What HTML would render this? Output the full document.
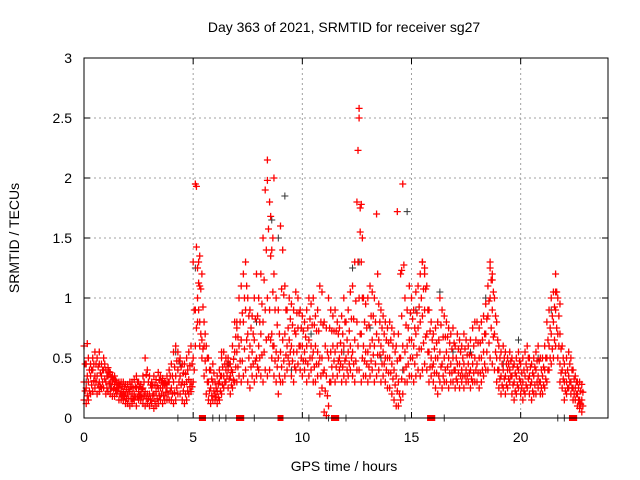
<!DOCTYPE html>
<html><head><meta charset="utf-8"><style>
body{margin:0;background:#fff;}
svg{display:block;font-family:"Liberation Sans",sans-serif;}
</style></head><body>
<svg id="c" width="640" height="480">
<rect width="640" height="480" fill="#fff"/>
<text x="344" y="32" text-anchor="middle" font-size="14">Day 363 of 2021, SRMTID for receiver sg27</text>
<text x="344" y="471" text-anchor="middle" font-size="14">GPS time / hours</text>
<text transform="translate(19,238) rotate(-90)" text-anchor="middle" font-size="14">SRMTID / TECUs</text>
<g id="grid"></g><g id="ticks"></g><g id="marks"></g>
<rect x="84" y="58" width="524" height="360" fill="none" stroke="#000"/>
</svg>
<script>
const xTicks=[0,5,10,15,20];
const yTicks=[0,0.5,1,1.5,2,2.5,3];
const yTickLabels=["0","0.5","1","1.5","2","2.5","3"];
const redLo=[.15,.12,.15,.2,.22,.25,.2,.22,.25,.25,.2,.22,.2,.18,.18,.2,.15,.15,.15,.12,.12,.1,.12,.15,.1,.15,.15,.12,.1,.12,.1,.12,.08,.1,.12,.15,.12,.15,.15,.15,.15,.12,.15,.2,.2,.15,.12,.15,.2,.22,.3,.6,.8,.6,.5,.35,.2,.15,.12,.15,.15,.12,.15,.2,.25,.3,.25,.2,.25,.3,.3,.35,.3,.35,.4,.3,.25,.35,.3,.35,.4,.35,.3,.4,.35,.4,.5,.35,.3,.2,.3,.3,.35,.4,.45,.35,.3,.4,.45,.4,.35,.4,.3,.35,.4,.3,.3,.35,.2,.25,.05,.02,.1,.3,.35,.3,.35,.4,.3,.35,.3,.35,.4,.35,.3,.4,.4,.3,.35,.35,.3,.35,.4,.3,.35,.4,.3,.35,.3,.25,.25,.2,.15,.1,.1,.15,.2,.3,.3,.35,.35,.3,.35,.4,.35,.4,.45,.4,.3,.35,.3,.25,.2,.3,.25,.3,.3,.25,.3,.3,.25,.3,.25,.3,.25,.3,.3,.25,.3,.3,.3,.25,.3,.35,.4,.4,.5,.45,.4,.3,.25,.2,.25,.2,.25,.3,.2,.15,.2,.25,.2,.15,.2,.25,.2,.15,.2,.2,.25,.2,.2,.25,.3,.4,.45,.5,.6,.5,.3,.25,.15,.2,.25,.2,.15,.15,.1,.08,.05];
const redMid=[.3,.25,.3,.35,.4,.35,.35,.3,.35,.4,.3,.35,.3,.3,.28,.25,.25,.22,.22,.2,.2,.22,.2,.2,.25,.22,.2,.25,.22,.2,.2,.25,.2,.22,.25,.25,.25,.28,.25,.3,.25,.3,.35,.4,.35,.3,.28,.3,.32,.3,.5,.9,1.0,.8,.65,.6,.4,.3,.25,.3,.2,.22,.3,.35,.35,.4,.4,.35,.38,.55,.55,.6,.65,.8,.9,.7,.6,.55,.65,.5,.6,.7,.8,.9,1.0,.9,.7,.6,.55,.5,.55,.65,.7,.6,.65,.6,.55,.7,.75,.6,.6,.55,.6,.65,.6,.55,.6,.55,.5,.5,.4,.35,.5,.55,.6,.55,.6,.5,.55,.6,.5,.55,.6,.55,.65,.8,1.0,.7,.6,.55,.55,.6,.65,.6,.7,.65,.6,.55,.5,.5,.5,.45,.4,.35,.3,.5,.6,.55,.6,.65,.65,.6,.7,.75,.8,.85,.9,.7,.55,.5,.45,.5,.5,.55,.45,.5,.55,.5,.45,.5,.4,.45,.45,.4,.45,.4,.45,.4,.45,.5,.45,.5,.5,.55,.7,.85,1.0,.9,.7,.5,.4,.35,.4,.35,.4,.4,.35,.3,.35,.4,.3,.3,.35,.4,.35,.3,.35,.4,.35,.3,.35,.4,.5,.6,.7,.8,.9,.7,.45,.4,.3,.3,.35,.3,.25,.25,.2,.15,.15];
const redHi=[.6,.45,.5,.45,.5,.55,.5,.45,.45,.5,.4,.42,.38,.35,.35,.3,.3,.3,.3,.28,.28,.3,.3,.32,.35,.3,.28,.35,.5,.4,.35,.3,.35,.32,.38,.35,.33,.3,.35,.4,.45,.55,.6,.55,.5,.45,.45,.5,.55,.6,1.3,1.95,1.25,1.35,1.2,.8,.6,.5,.4,.45,.3,.35,.4,.5,.55,.5,.5,.45,.6,.8,.8,1.0,1.1,1.2,1.3,1.0,.9,.85,1.0,1.2,1.0,1.2,1.5,1.9,2.15,1.8,1.4,1.2,1.0,.9,1.6,1.4,1.1,.9,1.0,.95,.9,1.05,1.0,.9,.85,.8,.9,1.0,.95,1.0,.85,.9,1.1,1.05,.8,.75,1.0,.9,.85,.9,.8,.75,.85,1.0,.8,.9,1.05,1.1,1.3,1.8,2.5,1.3,1.0,.95,1.0,1.1,1.05,1.0,1.7,.95,.9,.85,.8,.75,.8,.75,.7,.6,.7,1.2,1.95,1.0,.9,1.1,1.0,.9,1.05,1.1,1.2,1.3,1.25,1.1,.9,.8,.7,.75,.8,1.0,.9,.85,.8,.75,.7,.75,.6,.7,.65,.6,.7,.65,.6,.65,.75,.8,.8,.75,.8,.85,.95,1.1,1.3,1.2,1.0,.8,.6,.55,.6,.55,.5,.55,.5,.45,.5,.55,.45,.5,.55,.6,.5,.45,.5,.55,.6,.5,.5,.6,.8,.9,1.0,1.05,1.2,1.0,.7,.6,.45,.5,.55,.5,.4,.35,.3,.3,.28];
const spikeT=[5.15,5.25,5.3,8.4,8.55,8.7,8.65,12.55,12.6,12.65,12.7,12.75,14.35,14.55,15.5,15.6,18.6,18.7,21.6,21.8,0.15,0.7,6.3,7.0];
const spikeV=[1.93,1.3,1.1,1.98,1.68,2.0,1.5,2.23,2.58,1.55,1.78,1.5,1.72,1.23,1.3,1.2,1.25,1.15,1.05,0.95,0.62,0.55,0.55,0.75];
const redZeroT=[5.4,5.45,7.1,7.2,9.0,11.45,11.55,15.85,15.95,22.35,22.45];
const blackT=[0.1,1.2,4.2,4.4,5.1,6.6,7.6,7.9,8.6,8.9,9.2,9.5,10.4,11.3,11.9,12.3,12.6,12.8,13.1,13.6,14.6,14.8,15.2,16.3,16.9,17.7,18.4,19.2,19.9,20.8,21.4,22.1];
const blackV=[0.3,0.25,0.55,0.45,1.25,0.45,0.9,0.8,1.65,1.5,1.85,0.4,0.7,0.3,0.55,1.25,1.3,0.6,0.75,0.5,0.4,1.72,0.9,1.05,0.55,0.55,1.0,0.45,0.65,0.5,0.9,0.3];
const blackZeroT=[4.3,5.9,6.2,6.5,7.8,10.3,11.2,12.0,14.7,16.5,21.7,22.0];

const NS="http://www.w3.org/2000/svg";
const X=t=>84+t*(524/24), Y=v=>418-v*120;
function mk(tag,a,p){const e=document.createElementNS(NS,tag);for(const k in a)e.setAttribute(k,a[k]);p.appendChild(e);return e;}
const grid=document.getElementById('grid'),ticks=document.getElementById('ticks'),marks=document.getElementById('marks');
xTicks.forEach(t=>{
  if(t>0){const g=mk('line',{x1:X(t),x2:X(t),y1:58,y2:418,stroke:'#a0a0a0','stroke-dasharray':'2,3'},grid);
  
  }
  mk('line',{x1:X(t),x2:X(t),y1:418,y2:412,stroke:'#000'},ticks);
  mk('line',{x1:X(t),x2:X(t),y1:58,y2:64,stroke:'#000'},ticks);
  const l=mk('text',{x:X(t),y:442,'text-anchor':'middle','font-size':14},ticks);l.textContent=t;
  
  
});
yTicks.forEach((v,i)=>{
  if(v>0&&v<3){const g=mk('line',{x1:84,x2:608,y1:Y(v),y2:Y(v),stroke:'#a0a0a0','stroke-dasharray':'2,3'},grid);
  
  }
  mk('line',{x1:84,x2:90,y1:Y(v),y2:Y(v),stroke:'#000'},ticks);
  mk('line',{x1:602,x2:608,y1:Y(v),y2:Y(v),stroke:'#000'},ticks);
  const l=mk('text',{x:72,y:Y(v)+5,'text-anchor':'end','font-size':14},ticks);l.textContent=yTickLabels[i];
  
  
});
function plus(t,v,col,name,w){
  const x=X(t),y=Y(v);
  const p=mk('path',{d:`M${x-3.5},${y}h7M${x},${y-3.5}v7`,stroke:col,'stroke-width':w,fill:'none'},marks);
  
  
}
blackT.forEach((t,i)=>plus(t,blackV[i],'#333','black-point',1));
blackZeroT.forEach(t=>plus(t,0,'#333','black-zero-point',1));
[redLo,redMid,redHi].forEach(arr=>arr.forEach((v,i)=>plus(i*0.1,v,'#f00','red-point',1.3)));
redMid.forEach((v,i)=>plus(i*0.1+0.05,(v+redLo[i])/2,'#f00','red-point',1.3));
redMid.forEach((v,i)=>plus(i*0.1+0.05,(v+redHi[i])/2,'#f00','red-point',1.3));
spikeT.forEach((t,i)=>plus(t,spikeV[i],'#f00','red-spike-point',1.3));
redZeroT.forEach(t=>{
  const r=mk('rect',{x:X(t)-3,y:415,width:6,height:6,fill:'#f00'},marks);
  
  
});
</script>
</body></html>
